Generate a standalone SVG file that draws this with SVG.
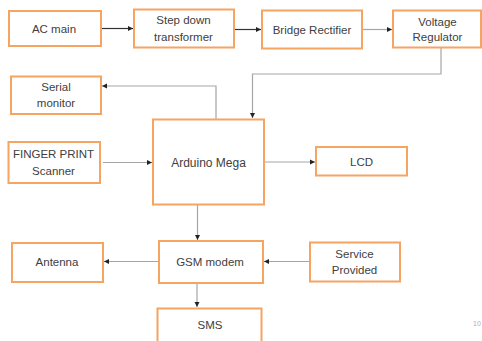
<svg xmlns="http://www.w3.org/2000/svg" width="482" height="341" viewBox="0 0 482 341">
<style>
.box{fill:#fff;stroke:#f5a462;stroke-width:2}
.t{font-family:"Liberation Sans",Arial,sans-serif;font-size:11.5px;fill:#404040;text-anchor:middle}
.c{fill:none;stroke-width:1.2}
.dk{stroke:#333}
.lt{stroke:#a6a6a6}
</style>
<defs>
<marker id="ah" markerWidth="6" markerHeight="6" refX="5" refY="3" orient="auto" markerUnits="userSpaceOnUse">
<path d="M0,0.5 L5,3 L0,5.5 Z" fill="#222"/>
</marker>
</defs>
<rect width="482" height="341" fill="#fff"/>
<g id="connectors">
<line class="c dk" x1="101" y1="28.5" x2="133" y2="28.5" marker-end="url(#ah)"/>
<line class="c dk" x1="234" y1="29.5" x2="261" y2="29.5" marker-end="url(#ah)"/>
<line class="c lt" x1="362" y1="29.5" x2="392" y2="29.5" marker-end="url(#ah)"/>
<polyline class="c lt" points="441,48 441,74 252.5,74 252.5,118" marker-end="url(#ah)"/>
<polyline class="c lt" points="216,119 216,86 102,86" marker-end="url(#ah)"/>
<line class="c lt" x1="103" y1="162.5" x2="152" y2="162.5" marker-end="url(#ah)"/>
<line class="c lt" x1="264" y1="162" x2="315" y2="162" marker-end="url(#ah)"/>
<line class="c lt" x1="197.5" y1="204" x2="197.5" y2="240" marker-end="url(#ah)"/>
<line class="c lt" x1="159" y1="261.5" x2="104" y2="261.5" marker-end="url(#ah)"/>
<line class="c lt" x1="310" y1="261.5" x2="264" y2="261.5" marker-end="url(#ah)"/>
<line class="c lt" x1="197" y1="283" x2="197" y2="307" marker-end="url(#ah)"/>
</g>
<g id="ac-main"><rect class="box" x="9" y="11" width="92" height="35"/><text class="t" x="54" y="32.5">AC main</text></g>
<g id="step-down"><rect class="box" x="134" y="9.5" width="100" height="38"/><text class="t" x="183.5" y="24">Step down</text><text class="t" x="183.5" y="40.5">transformer</text></g>
<g id="bridge"><rect class="box" x="262" y="10.5" width="100" height="38"/><text class="t" x="312" y="34">Bridge Rectifier</text></g>
<g id="voltage"><rect class="box" x="393" y="10.5" width="88" height="37"/><text class="t" x="437.5" y="25.5">Voltage</text><text class="t" x="437.5" y="41">Regulator</text></g>
<g id="serial"><rect class="box" x="11" y="76.5" width="90" height="37.5"/><text class="t" x="56" y="91">Serial</text><text class="t" x="56" y="107">monitor</text></g>
<g id="finger"><rect class="box" x="8.5" y="142" width="91.5" height="41"/><text class="t" x="53.5" y="158">FINGER PRINT</text><text class="t" x="53.5" y="175">Scanner</text></g>
<g id="arduino"><rect class="box" x="153" y="119.5" width="111" height="85"/><text class="t" x="208.5" y="166.5" style="font-size:12px">Arduino Mega</text></g>
<g id="lcd"><rect class="box" x="316" y="147" width="91" height="28.5"/><text class="t" x="361.5" y="166">LCD</text></g>
<g id="gsm"><rect class="box" x="159" y="241" width="104" height="42"/><text class="t" x="210" y="266">GSM modem</text></g>
<g id="antenna"><rect class="box" x="12" y="243" width="91" height="39"/><text class="t" x="57" y="266">Antenna</text></g>
<g id="service"><rect class="box" x="310" y="242.5" width="90" height="39"/><text class="t" x="354.5" y="258">Service</text><text class="t" x="354.5" y="274">Provided</text></g>
<g id="sms"><rect class="box" x="157.5" y="308.5" width="104" height="40"/><text class="t" x="210" y="329">SMS</text></g>
<text x="473" y="326" style="font-family:'Liberation Sans',Arial,sans-serif;font-size:7px;fill:#b0b0b0">10</text>
</svg>
